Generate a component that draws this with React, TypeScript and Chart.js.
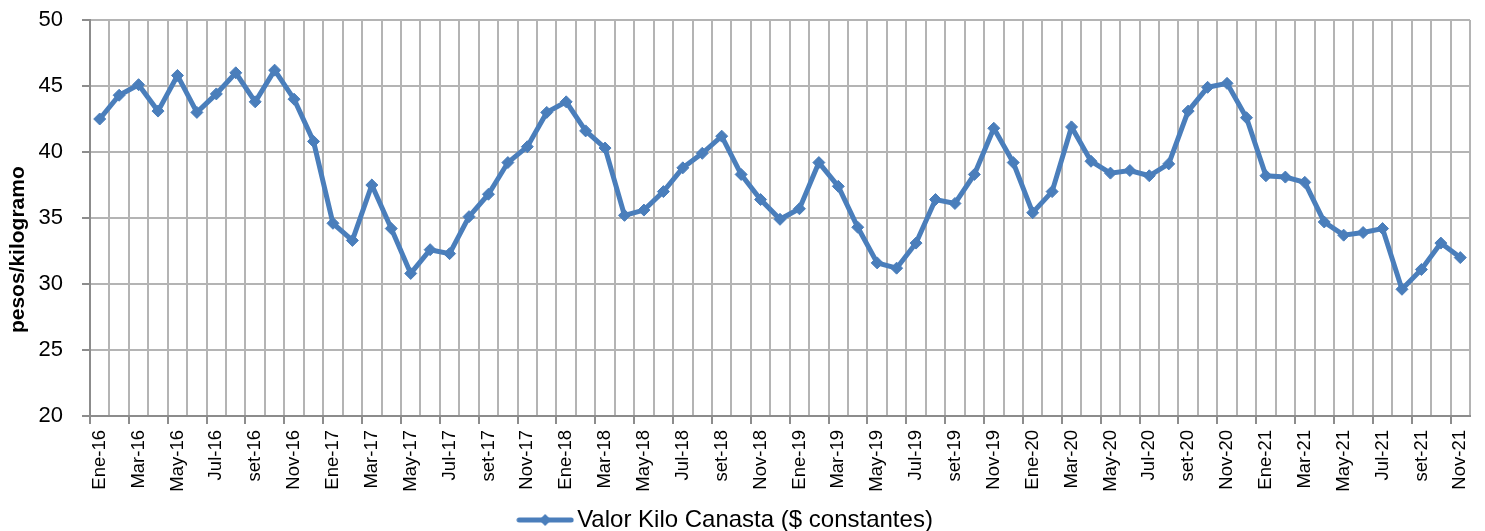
import React, { useEffect, useRef } from "react";
import { Chart, registerables } from "chart.js";

Chart.register(...registerables);

const monthNames: string[] = ["Ene", "Feb", "Mar", "Abr", "May", "Jun", "Jul", "Ago", "set", "Oct", "Nov", "Dic"];
const years: string[] = ["16", "17", "18", "19", "20", "21"];
const categories: string[] = years
  .flatMap((y) => monthNames.map((m) => `${m}-${y}`))
  .slice(0, 71);

const values2016: number[] = [42.5, 44.3, 45.1, 43.1, 45.8, 43.0, 44.4, 46.0, 43.8, 46.2, 44.0, 40.8];
const values2017: number[] = [34.6, 33.3, 37.5, 34.2, 30.8, 32.6, 32.3, 35.1, 36.8, 39.2, 40.4, 43.0];
const values2018: number[] = [43.8, 41.6, 40.3, 35.2, 35.6, 37.0, 38.8, 39.9, 41.2, 38.3, 36.4, 34.9];
const values2019: number[] = [35.7, 39.2, 37.4, 34.3, 31.6, 31.2, 33.1, 36.4, 36.1, 38.3, 41.8, 39.2];
const values2020: number[] = [35.4, 37.0, 41.9, 39.3, 38.4, 38.6, 38.2, 39.1, 43.1, 44.9, 45.2, 42.6];
const values2021: number[] = [38.2, 38.1, 37.7, 34.7, 33.7, 33.9, 34.2, 29.6, 31.1, 33.1, 32.0];
const seriesValues: number[] = [...values2016, ...values2017, ...values2018, ...values2019, ...values2020, ...values2021];

const seriesLabel = "Valor Kilo Canasta ($ constantes)";
const yTitle = "pesos/kilogramo";
const yMin = 20;
const yMax = 50;
const yStep = 5;

const BLUE = "#4A7EBB";
const GRID = "#B4B4B4";
const AXIS = "#8C8C8C";
const FONT = "'Liberation Sans', Arial, sans-serif";

function makeLegendIcon(): HTMLCanvasElement {
  const c = document.createElement("canvas");
  c.width = 58;
  c.height = 16;
  const ctx = c.getContext("2d")!;
  ctx.strokeStyle = BLUE;
  ctx.lineWidth = 5;
  ctx.lineCap = "round";
  ctx.beginPath();
  ctx.moveTo(3, 8);
  ctx.lineTo(55, 8);
  ctx.stroke();
  ctx.fillStyle = BLUE;
  ctx.beginPath();
  ctx.moveTo(29, 2);
  ctx.lineTo(35, 8);
  ctx.lineTo(29, 14);
  ctx.lineTo(23, 8);
  ctx.closePath();
  ctx.fill();
  return c;
}

const layoutTweakPlugin = {
  id: "layoutTweakPlugin",
  afterLayout(chart: any) {
    const lg = chart.legend;
    if (lg) {
      lg.top += 11;
      lg.bottom += 11;
      lg.left -= 6;
      lg.right -= 6;
    }
  },
};

const yTitlePlugin = {
  id: "yTitlePlugin",
  afterDraw(chart: any) {
    const { ctx, chartArea } = chart;
    ctx.save();
    ctx.fillStyle = "#000";
    ctx.font = `bold 21px ${FONT}`;
    ctx.textAlign = "center";
    ctx.textBaseline = "middle";
    const cy = chartArea.top + (chartArea.bottom - chartArea.top) * 0.58;
    ctx.translate(18, cy);
    ctx.rotate(-Math.PI / 2);
    ctx.fillText(yTitle, 0, 0);
    ctx.restore();
  },
};

export default function App() {
  const ref = useRef<HTMLCanvasElement | null>(null);

  useEffect(() => {
    document.body.style.margin = "0";
    if (!ref.current) return;
    const icon = makeLegendIcon();
    const chart = new Chart(ref.current, {
      type: "line",
      data: {
        labels: categories,
        datasets: [
          {
            label: seriesLabel,
            data: seriesValues,
            borderColor: BLUE,
            backgroundColor: BLUE,
            borderWidth: 5,
            pointStyle: "rectRot",
            pointRadius: 6,
            pointBorderWidth: 1,
            pointBackgroundColor: BLUE,
            pointBorderColor: BLUE,
            tension: 0,
          },
        ],
      },
      options: {
        responsive: false,
        animation: false,
        devicePixelRatio: 1,
        layout: { padding: { top: 20, right: 15, left: 0, bottom: 0 } },
        plugins: {
          tooltip: { enabled: false },
          legend: {
            position: "bottom",
            labels: {
              usePointStyle: true,
              pointStyleWidth: 40,
              padding: 0,
              color: "#000",
              font: { family: FONT, size: 24 },
              generateLabels: () => [
                {
                  text: seriesLabel,
                  pointStyle: icon as any,
                  fillStyle: BLUE,
                  strokeStyle: BLUE,
                  lineWidth: 0,
                  hidden: false,
                  datasetIndex: 0,
                } as any,
              ],
            },
          },
        },
        scales: {
          x: {
            type: "category",
            offset: true,
            grid: {
              offset: true,
              color: GRID,
              lineWidth: 2,
              drawTicks: true,
              tickLength: 8,
              tickColor: (ctx: any) => (ctx.index % 2 === 0 ? AXIS : "rgba(0,0,0,0)"),
              tickWidth: 2,
            },
            border: { display: true, color: AXIS, width: 2 },
            ticks: {
              autoSkip: false,
              maxRotation: 90,
              minRotation: 90,
              padding: 6,
              color: "#000",
              font: { family: FONT, size: 18.5 },
              callback: (_v: any, i: number) => (i % 2 === 0 ? categories[i] : ""),
            },
            afterFit: (scale: any) => {
              scale.height = 81;
              scale.paddingLeft = 0;
              scale.paddingRight = 0;
            },
          },
          y: {
            min: yMin,
            max: yMax,
            ticks: {
              stepSize: yStep,
              padding: 19,
              color: "#000",
              font: { family: FONT, size: 22 },
            },
            grid: {
              color: GRID,
              lineWidth: 2,
              tickLength: 8,
              tickColor: AXIS,
              tickWidth: 2,
            },
            border: { display: true, color: AXIS, width: 2 },
            afterFit: (scale: any) => {
              scale.width = 90;
              scale.paddingTop = 0;
              scale.paddingBottom = 0;
            },
          },
        },
      },
      plugins: [layoutTweakPlugin, yTitlePlugin],
    });
    return () => chart.destroy();
  }, []);

  return (
    <div style={{ width: 1485, height: 531 }}>
      <canvas ref={ref} width={1485} height={531} />
    </div>
  );
}
